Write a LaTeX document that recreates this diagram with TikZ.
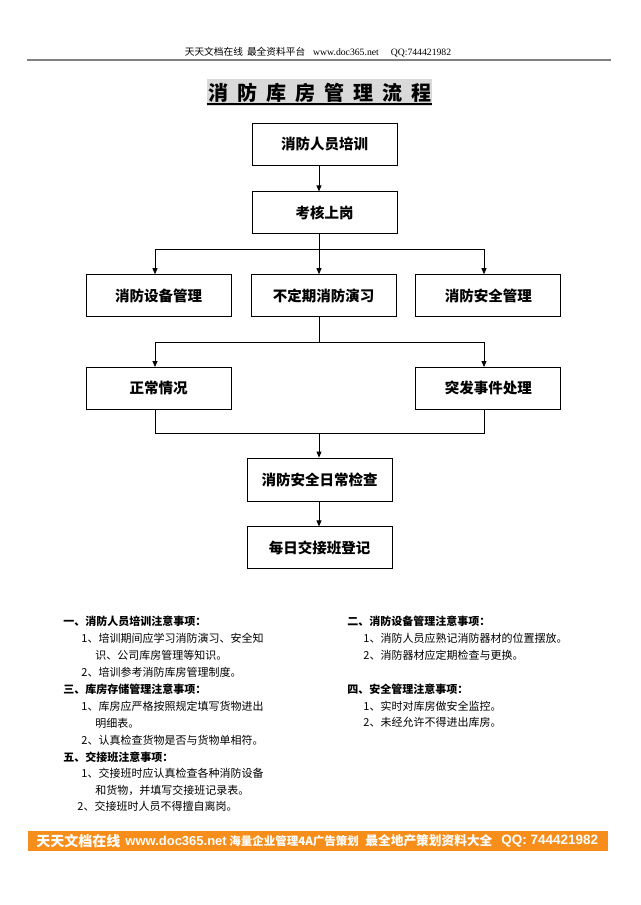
\documentclass[tikz,border=0pt]{standalone}
\usepackage{fontspec}
\setmainfont{Liberation Serif}
\newfontfamily\cjk{Noto Sans CJK SC}
\newfontfamily\arial{Liberation Sans}
\usetikzlibrary{arrows.meta,positioning}
\definecolor{barorange}{RGB}{247,142,28}
\newcommand\tgap{\hspace{9pt}}
\tikzset{
  box/.style={draw,line width=0.8pt,minimum width=145pt,minimum height=42pt,
    inner sep=0pt,font=\cjk\bfseries\fontsize{14.5}{16}\selectfont},
  arr/.style={-{Triangle[length=6pt,width=5pt]}},
  note/.style={anchor=west,inner sep=0pt,font=\cjk\fontsize{11}{13}\selectfont},
  notehead/.style={note,font=\cjk\bfseries\fontsize{11}{13}\selectfont},
  bartext/.style={anchor=west,inner sep=0pt,text=white}
}
\begin{document}
\begin{tikzpicture}[x=1pt,y=-1pt,line width=0.8pt]
\useasboundingbox (0,0) rectangle (640,905);
\node[inner sep=0pt,font=\fontsize{9.7}{11}\selectfont] (head) at (318,52)
  {{\cjk 天天文档在线}\hspace{4pt}{\cjk 最全资料平台}\hspace{8pt}www.doc365.net\hspace{12pt}QQ:744421982};
\draw[gray,line width=1.2pt] (27,60) -- (611,60);
\node[fill=gray!30,inner xsep=1pt,minimum height=25pt,
  font=\cjk\bfseries\fontsize{20}{22}\selectfont] (title) at (319.5,92.5)
  {消\tgap 防\tgap 库\tgap 房\tgap 管\tgap 理\tgap 流\tgap 程};
\draw[line width=1.3pt] (title.south west)+(0,-2) -- ([yshift=2pt]title.south east);
% boxes
\node[box] (train) at (324.5,144) {消防人员培训};
\node[box,below=26pt of train] (exam) {考核上岗};
\node[box,below=40pt of exam,xshift=-1pt] (drill) {不定期消防演习};
\node[box,left=19pt of drill] (equip) {消防设备管理};
\node[box,right=19pt of drill] (safe) {消防安全管理};
\node[box,below=50pt of equip] (normal) {正常情况};
\node[box,below=50pt of safe] (emerg) {突发事件处理};
\node[box,minimum height=43pt] (check) at (319.5,479.5) {消防安全日常检查};
\node[box,below=25pt of check] (record) {每日交接班登记};
% connectors
\coordinate (lc) at (155,0);
\coordinate (rc) at (484,0);
\coordinate (t1) at (319,249);
\coordinate (t2) at (319,342);
\coordinate (t3) at (319,433);
\draw[arr] (train.south -| t1) -- (exam.north -| t1);
\draw (exam.south -| t1) -- (t1);
\draw (t1 -| lc) -- (t1 -| rc);
\draw[arr] (t1 -| lc) -- (equip.north -| lc);
\draw[arr] (t1) -- (drill.north -| t1);
\draw[arr] (t1 -| rc) -- (safe.north -| rc);
\draw (drill.south -| t2) -- (t2);
\draw (t2 -| lc) -- (t2 -| rc);
\draw[arr] (t2 -| lc) -- (normal.north -| lc);
\draw[arr] (t2 -| rc) -- (emerg.north -| rc);
\draw (normal.south -| lc) -- (t3 -| lc) -- (t3 -| rc) -- (emerg.south -| rc);
\draw[arr] (t3) -- (check.north -| t3);
\draw[arr] (check.south -| t3) -- (record.north -| t3);
% notes
\node[notehead] (n1) at (63,621) {一、消防人员培训注意事项：};
\node[note] (n1a) at (81,638) {1、培训期间应学习消防演习、安全知};
\node[note] (n1b) at (95,655) {识、公司库房管理等知识。};
\node[note] (n1c) at (81,672) {2、培训参考消防库房管理制度。};
\node[notehead] (n3) at (63,689) {三、库房存储管理注意事项：};
\node[note] (n3a) at (81,706) {1、库房应严格按照规定填写货物进出};
\node[note] (n3b) at (95,723) {明细表。};
\node[note] (n3c) at (81,740) {2、认真检查货物是否与货物单相符。};
\node[notehead] (n5) at (63,757) {五、交接班注意事项：};
\node[note] (n5a) at (81,773) {1、交接班时应认真检查各种消防设备};
\node[note] (n5b) at (95,790) {和货物，并填写交接班记录表。};
\node[note] (n5c) at (77,806) {2、交接班时人员不得擅自离岗。};
\node[notehead] (n2) at (347,621) {二、消防设备管理注意事项：};
\node[note] (n2a) at (363,638) {1、消防人员应熟记消防器材的位置摆放。};
\node[note] (n2b) at (363,655) {2、消防器材应定期检查与更换。};
\node[notehead] (n4) at (347,689) {四、安全管理注意事项：};
\node[note] (n4a) at (363,706) {1、实时对库房做安全监控。};
\node[note] (n4b) at (363,722) {2、未经允许不得进出库房。};
% footer bar
\fill[barorange] (28,831) rectangle (608,851);
\node[bartext,font=\cjk\bfseries\fontsize{14}{16}\selectfont] (b1) at (36,841) {天天文档在线};
\node[bartext,font=\arial\bfseries\fontsize{13}{15}\selectfont] (b2) at (125,841) {www.doc365.net};
\node[bartext,font=\cjk\bfseries\fontsize{11.5}{13}\selectfont] (b3) at (229,841) {海量企业管理4A广告策划};
\node[bartext,font=\cjk\bfseries\fontsize{12.7}{14}\selectfont] (b4) at (365,841) {最全地产策划资料大全};
\node[bartext,font=\arial\bfseries\fontsize{13.5}{15}\selectfont] (b5) at (501,841) {QQ: 744421982};
\end{tikzpicture}
\end{document}
